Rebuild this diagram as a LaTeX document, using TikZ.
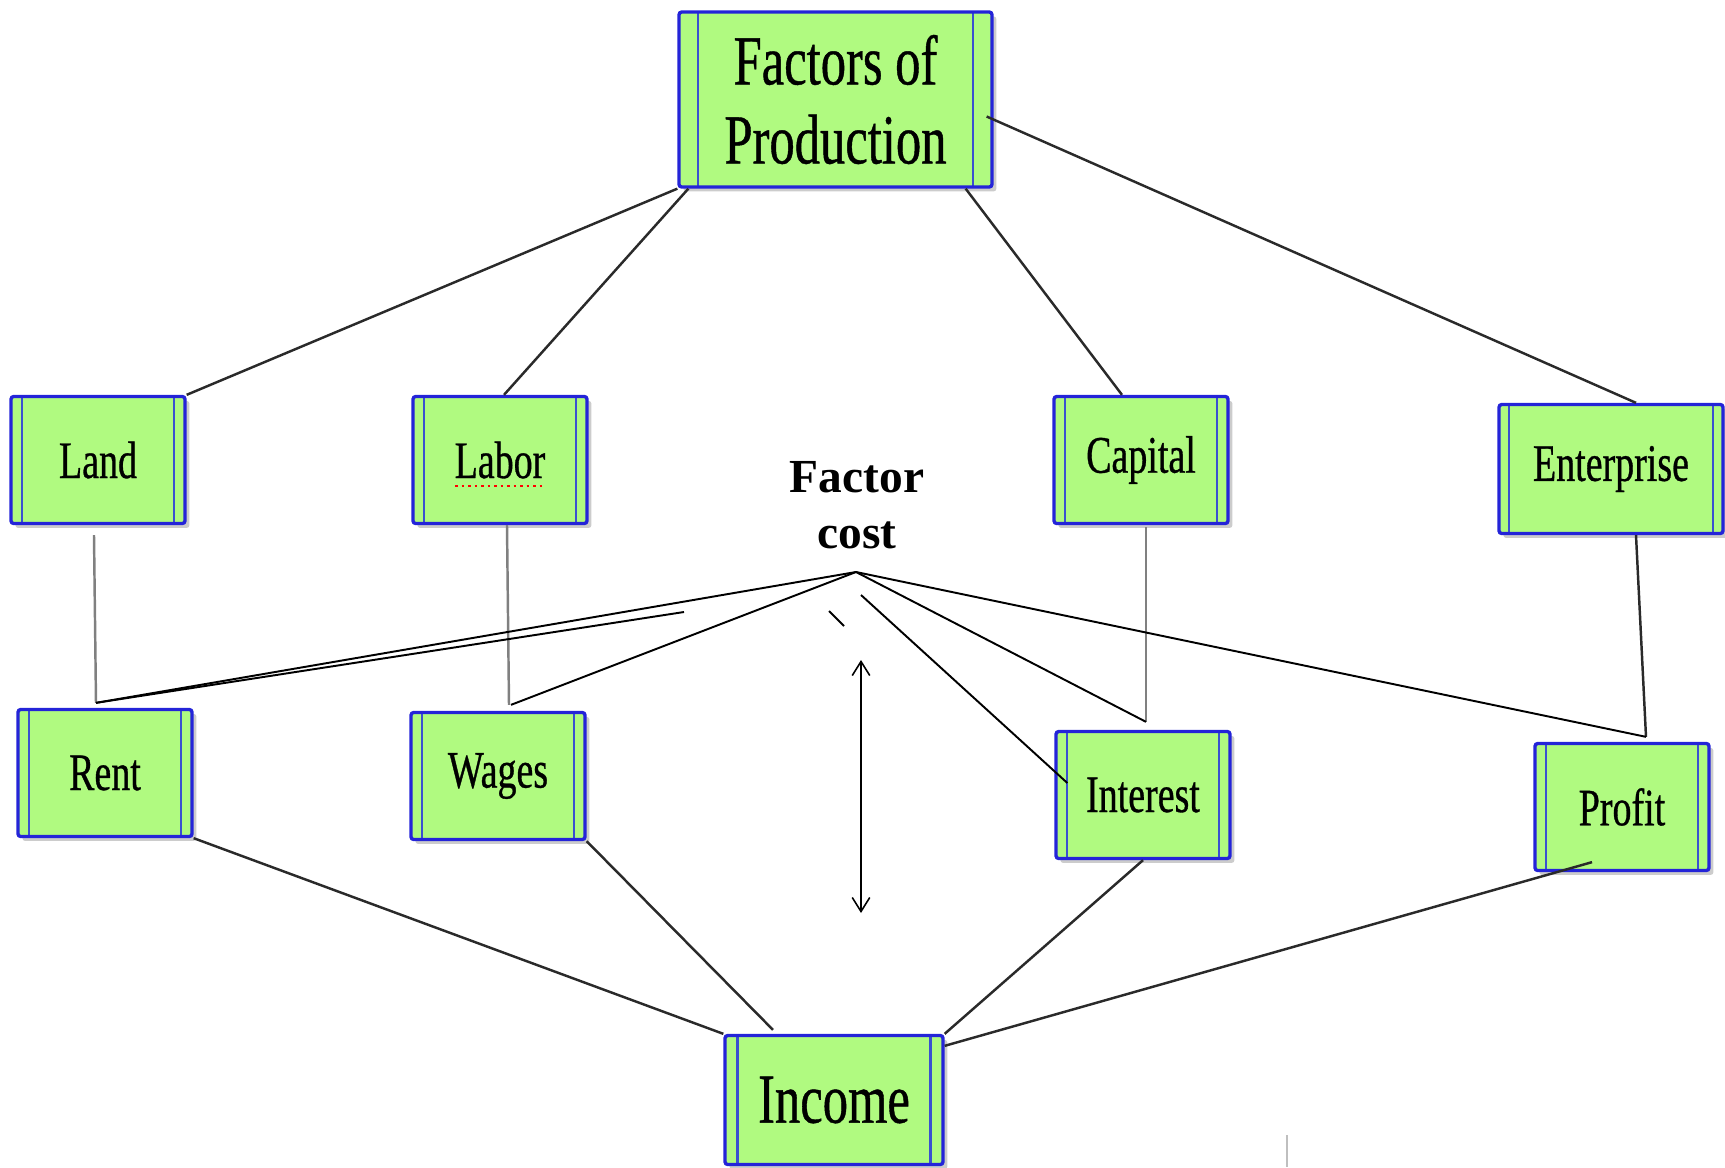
\documentclass[tikz,border=0pt]{standalone}
\usepackage{fontspec}
\setmainfont{Liberation Serif}
\newfontfamily\boxfont{Liberation Serif}[FakeStretch=0.72, FakeBold=0.6]
\usetikzlibrary{shadows}
\usetikzlibrary{arrows.meta}
\usetikzlibrary{calc}
\definecolor{boxgreen}{HTML}{B0FA80}
\definecolor{boxblue}{HTML}{2424D8}
\definecolor{railblue}{HTML}{3A50D0}
\definecolor{linkgray}{HTML}{2A2A2A}

\begin{document}
\begin{tikzpicture}[
  x=0.02cm, y=-0.02cm,
  factor/.style 2 args={
    rectangle,
    draw=boxblue,
    line width=1.9pt,
    fill=boxgreen,
    rounded corners=1.5pt,
    minimum width=#1,
    minimum height=#2,
    inner sep=0pt,
    drop shadow={shadow xshift=2.5pt, shadow yshift=-2.5pt, opacity=0.4},
    font=\boxfont\fontsize{30}{34}\selectfont,
    path picture={
      \draw[railblue, line width=1.5pt]
        ([xshift=\railsep]path picture bounding box.north west) --
        ([xshift=\railsep]path picture bounding box.south west)
        ([xshift=-\railsep]path picture bounding box.north east) --
        ([xshift=-\railsep]path picture bounding box.south east);
    }},
  rail/.code={\def\railsep{#1}},
  link/.style={draw=linkgray, line width=1.4pt},
  cost/.style={draw=black, line width=1.1pt},
]

  \def\railsep{0.22cm}%
  \useasboundingbox (0,0) rectangle (1725,1167);

  % Factors of production
  \node[factor={6.26cm}{3.5cm}, rail=0.38cm, align=center,
        font=\boxfont\fontsize{40}{45}\selectfont] (fop) at (835.5,99.5)
        {Factors of\\Production};
  \foreach \name/\x/\y/\txt in {land/98/460/Land, labor/500/460/Labor,
                                capital/1141/460/Capital} {
    \node[factor={3.48cm}{2.54cm}] (\name) at (\x,\y) {\txt};
  }
  \node[factor={4.48cm}{2.58cm}, rail=0.2cm] (enterprise) at (1611,469)
        {Enterprise};

  % Factor incomes
  \foreach \name/\x/\y/\txt in {rent/105/773/Rent, wages/498/776/Wages,
                                interest/1143/795/Interest, profit/1622/807/Profit} {
    \node[factor={3.48cm}{2.54cm}] (\name) at (\x,\y) {\txt};
  }
  \node[factor={4.36cm}{2.58cm}, rail=0.25cm,
        font=\boxfont\fontsize{40}{45}\selectfont] (income) at (834,1100)
        {Income};

  % spell-check mark
  \draw[red, line width=1.4pt, dash pattern=on 1.5pt off 2.2pt]
    ($(labor.center)+(-45,26)$) -- ($(labor.center)+(43,26)$);

  % Factor cost
  \node[font=\bfseries\fontsize{27}{32}\selectfont, align=center] (fcost)
        at (857,505) {Factor\\cost};
  \coordinate (apex) at (856,572);
  \coordinate (rentTop) at ($(rent.north)+(-9,-5)$);
  \coordinate (wagesTop) at ($(wages.north)+(13,-6)$);
  \coordinate (interestTop) at ($(interest.north)+(3,-8)$);
  \coordinate (profitTop) at ($(profit.north)+(24,-5)$);
  \coordinate (rentTail) at (684,612);
  \coordinate (dashA) at (829,611);
  \coordinate (dashB) at (844,626);
  \coordinate (slantTail) at (861,595);
  \coordinate (arrUp) at (861,660);
  \coordinate (arrDown) at (861,913);

  % production to factors
  \draw[link] (fop.south west) -- (land.north east);
  \draw[link] ($(fop.south west)+(11,0)$) -- ($(labor.north)+(4,0)$);
  \draw[link] ($(fop.south east)+(-28,0)$) -- ($(capital.north)+(-19,0)$);
  \draw[link] ($(fop.east)+(-7,17)$) -- ($(enterprise.north)+(25,0)$);

  % factors to incomes
  \draw[link, draw=gray] ($(land.south)+(-4,10)$) -- (rentTop);
  \draw[link, draw=gray] ($(labor.south)+(7,0)$) -- ($(wages.north)+(11,-6)$);
  \draw[link, draw=gray] ($(capital.south)+(5,2)$) -- (interestTop);
  \draw[link] ($(enterprise.south)+(25,0)$) -- (profitTop);

  % incomes to income
  \draw[link] (rent.south east) -- (income.north west);
  \draw[link] (wages.south east) -- ($(income.north)+(-61,-4)$);
  \draw[link] (interest.south) -- (income.north east);
  \draw[link] ($(profit.south)+(-30,-10)$) -- ($(income.north east)+(0,12)$);

  % factor cost lines
  \draw[cost] (apex) -- (rentTop);
  \draw[cost] (rentTail) -- (rentTop);
  \draw[cost] (apex) -- (wagesTop);
  \draw[cost] (apex) -- (interestTop);
  \draw[cost] (apex) -- (profitTop);
  \draw[cost] (dashA) -- (dashB);
  \draw[cost] (slantTail) -- ($(interest.west)+(13,-12)$);
  \draw[cost, line width=0.9pt,
        {Straight Barb[length=8pt, width=10pt]}-{Straight Barb[length=8pt, width=10pt]}]
    (arrUp) -- (arrDown);

  % stray mark
  \draw[gray!50, line width=0.8pt] (1287,1135) -- (1287,1167);

\end{tikzpicture}
\end{document}
